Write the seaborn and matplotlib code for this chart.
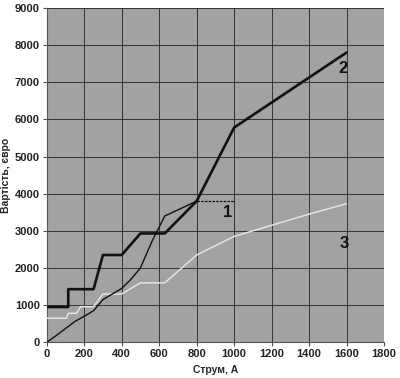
import matplotlib
matplotlib.use("Agg")
import matplotlib.pyplot as plt
import seaborn as sns
import pandas as pd

# Series 1 (thin black)
s1_x = [0, 50, 100, 150, 200, 250, 300, 350, 400, 450, 500, 560, 630, 800]
s1_y = [0, 180, 370, 560, 700, 850, 1150, 1300, 1450, 1700, 2000, 2700, 3400, 3800]
# Series 1 dashed tail
s1t_x = [800, 1000]
s1t_y = [3800, 3800]
# Series 2 (thick black, stepped)
s2_x = [0, 115, 115, 250, 300, 400, 500, 630, 800, 1000, 1600]
s2_y = [950, 950, 1430, 1430, 2350, 2350, 2930, 2930, 3800, 5780, 7800]
# Series 3 (light gray)
s3_x = [0, 105, 115, 160, 180, 250, 300, 400, 500, 630, 800, 1000, 1200, 1400, 1600]
s3_y = [650, 650, 780, 780, 960, 960, 1300, 1300, 1600, 1600, 2350, 2850, 3150, 3450, 3730]

labels = ["1", "2", "3"]
label_x = [968, 1580, 1586]
label_y = [3500, 7380, 2670]

x_ticks = [0, 200, 400, 600, 800, 1000, 1200, 1400, 1600, 1800]
y_ticks = [0, 1000, 2000, 3000, 4000, 5000, 6000, 7000, 8000, 9000]
xlabel = "Струм, А"
ylabel = "Вартість, євро"

sns.set_style("white")
plt.rcParams['font.family'] = ['Liberation Sans', 'DejaVu Sans']

fig = plt.figure(figsize=(4.0, 3.78), dpi=100)
ax = fig.add_axes([0.1168, 0.0944, 0.8432, 0.8846])
ax.set_facecolor("#a2a2a2")

for xv in x_ticks:
    ax.axvline(xv, color="#333333", lw=0.7, zorder=1)
for yv in y_ticks:
    ax.axhline(yv, color="#333333", lw=0.7, zorder=1)

sns.lineplot(x=s3_x, y=s3_y, ax=ax, sort=False, estimator=None, color="#e4e4e4", lw=1.1, zorder=3)
sns.lineplot(x=s1_x, y=s1_y, ax=ax, sort=False, estimator=None, color="#111111", lw=1.0, zorder=4)
sns.lineplot(x=s1t_x, y=s1t_y, ax=ax, sort=False, estimator=None, color="#111111", lw=0.9, ls=(0, (2, 1)), zorder=4)
sns.lineplot(x=s2_x, y=s2_y, ax=ax, sort=False, estimator=None, color="#111111", lw=1.9, zorder=5)

for t, lx, ly in zip(labels, label_x, label_y):
    ax.text(lx, ly, t, fontsize=12, fontweight="bold", color="#111111", ha="center", va="center", zorder=6)

ax.set_xlim(0, 1800)
ax.set_ylim(0, 9000)
ax.set_xticks(x_ticks)
ax.set_yticks(y_ticks)
ax.tick_params(axis="both", labelsize=8, length=3, width=0.8, color="#555555", direction="out", pad=2)
for lab in ax.get_xticklabels() + ax.get_yticklabels():
    lab.set_fontweight("bold")
    lab.set_color("#222222")
ax.tick_params(bottom=True, left=True)
for side in ["top", "right"]:
    ax.spines[side].set_visible(False)
for side in ["left", "bottom"]:
    ax.spines[side].set_color("#555555")
    ax.spines[side].set_linewidth(0.8)
ax.set_xlabel(xlabel, fontsize=7.5, fontweight="bold", labelpad=4)
ax.set_ylabel(ylabel, fontsize=7.5, fontweight="bold", labelpad=3)
ax.grid(False)

fig.savefig("out.png", dpi=100)
